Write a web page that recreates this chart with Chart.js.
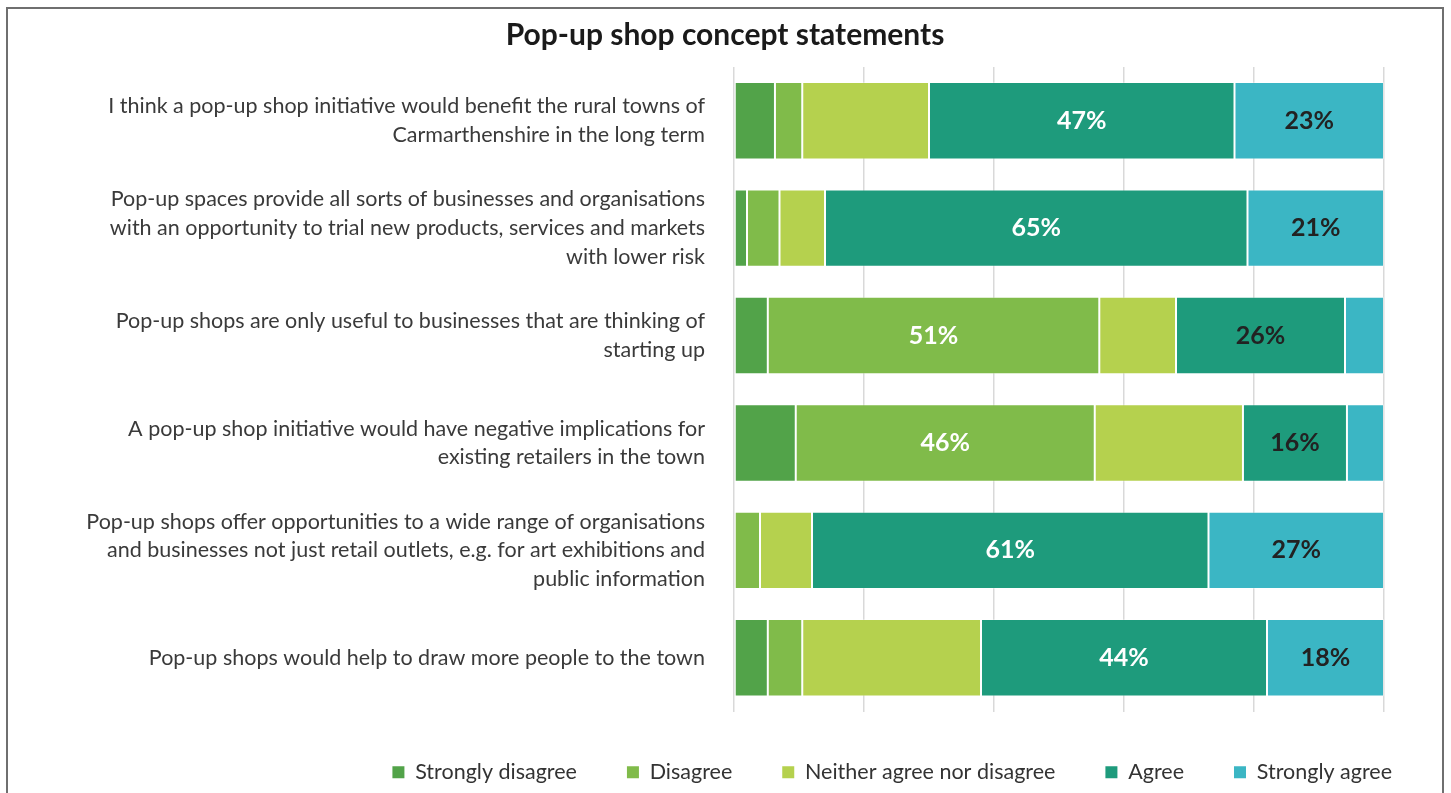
<!DOCTYPE html>
<html>
<head>
<meta charset="utf-8">
<title>Pop-up shop concept statements</title>
<script src="https://cdn.jsdelivr.net/npm/chart.js@4.4.1/dist/chart.umd.min.js"></script>
<style>
  html, body { margin: 0; padding: 0; background: #fff; overflow: hidden; }
  .frame { position: absolute; left: 6px; top: 7px; width: 1438px; height: 820px; box-sizing: border-box; border: 2px solid #6f6f6f; }
  .wrap { position: absolute; left: 8px; top: 0; width: 1434px; height: 793px; }
</style>
</head>
<body>
<div class="frame"></div>
<div class="wrap"><canvas id="popupChart"></canvas></div>
<script>
// statements (y axis), one array of lines per row
const statements = [
  ['I think a pop-up shop initiative would benefit the rural towns of', 'Carmarthenshire in the long term'],
  ['Pop-up spaces provide all sorts of businesses and organisations', 'with an opportunity to trial new products, services and markets', 'with lower risk'],
  ['Pop-up shops are only useful to businesses that are thinking of', 'starting up'],
  ['A pop-up shop initiative would have negative implications for', 'existing retailers in the town'],
  ['Pop-up shops offer opportunities to a wide range of organisations', 'and businesses not just retail outlets, e.g. for art exhibitions and', 'public information'],
  ['Pop-up shops would help to draw more people to the town']
];

// % of respondents per answer
const stronglyDisagree = [6.3, 2, 5.2, 9.5, 0, 5.2];
const disagree = [4.2, 5, 51, 46, 4, 5.3];
const neither = [19.5, 7, 11.8, 22.8, 8, 27.5];
const agree = [47, 65, 26, 16, 61, 44];
const stronglyAgree = [23, 21, 6, 5.7, 27, 18];

const xTicks = [0, 20, 40, 60, 80, 100];

// which series get a % printed on the bar
const labelledSeries = ['Disagree', 'Agree', 'Strongly agree'];
const minLabelled = 10;

const FONT = 'Lato, "Open Sans", sans-serif';
Chart.defaults.font.family = FONT;

const valueLabels = {
  id: 'valueLabels',
  afterDatasetsDraw(chart) {
    const ctx = chart.ctx;
    const sets = chart.data.datasets;
    ctx.save();
    ctx.font = 'bold 25px ' + FONT;
    ctx.textAlign = 'center';
    ctx.textBaseline = 'middle';
    sets.forEach((ds, di) => {
      if (!labelledSeries.includes(ds.label)) return;
      chart.getDatasetMeta(di).data.forEach((bar, i) => {
        const v = ds.data[i];
        if (v < minLabelled) return;
        const rowMax = Math.max(...sets.map(d => d.data[i]));
        ctx.fillStyle = v === rowMax ? '#ffffff' : '#222222';
        ctx.fillText(Math.round(v) + '%', (bar.x + bar.base) / 2, bar.y);
      });
    });
    ctx.restore();
  }
};

const series = [
  ['Strongly disagree', stronglyDisagree, '#52a349'],
  ['Disagree', disagree, '#80bb4a'],
  ['Neither agree nor disagree', neither, '#b5d14e'],
  ['Agree', agree, '#1e9b7c'],
  ['Strongly agree', stronglyAgree, '#3bb6c4']
];

new Chart(document.getElementById('popupChart'), {
  type: 'bar',
  data: {
    labels: statements,
    datasets: series.map(([label, data, colour]) => ({
      label: label,
      data: data,
      backgroundColor: colour,
      borderColor: 'rgba(255,255,255,0.3)',
      borderWidth: 1,
      borderSkipped: false,
      barPercentage: 0.9,
      categoryPercentage: 0.8
    }))
  },
  options: {
    indexAxis: 'y',
    responsive: true,
    maintainAspectRatio: false,
    animation: false,
    layout: { padding: 0 },
    scales: {
      x: {
        type: 'linear',
        stacked: true,
        min: xTicks[0],
        max: xTicks[xTicks.length - 1],
        afterBuildTicks: (s) => { s.ticks = xTicks.map(v => ({ value: v })); },
        ticks: { display: false },
        grid: { color: '#d9d9d9', lineWidth: 1.5, drawTicks: false },
        border: { display: false }
      },
      y: {
        stacked: true,
        grid: { display: false, drawTicks: false },
        border: { display: false },
        ticks: {
          padding: 29,
          color: '#3a3a3a',
          font: { size: 21.5, lineHeight: 1.33 }
        },
        afterFit: (s) => { s.width = 726; }
      },
      // empty axis on the right keeps the plot clear of the frame
      yRight: {
        type: 'linear',
        position: 'right',
        display: true,
        ticks: { display: false },
        grid: { display: false, drawTicks: false },
        border: { display: false },
        afterFit: (s) => { s.width = 58; }
      }
    },
    plugins: {
      title: {
        display: true,
        text: 'Pop-up shop concept statements',
        color: '#1a1a1a',
        font: { size: 30, weight: 'bold', lineHeight: 1.2 },
        padding: { top: 17, bottom: 14 }
      },
      legend: {
        position: 'bottom',
        align: 'end',
        labels: {
          boxWidth: 12,
          boxHeight: 12,
          padding: 50,
          color: '#333333',
          font: { size: 21.5 },
          generateLabels: (chart) =>
            Chart.defaults.plugins.legend.labels.generateLabels(chart)
              .map(item => Object.assign(item, { lineWidth: 0 }))
        }
      },
      tooltip: { enabled: false }
    }
  },
  plugins: [valueLabels]
});
</script>
</body>
</html>
